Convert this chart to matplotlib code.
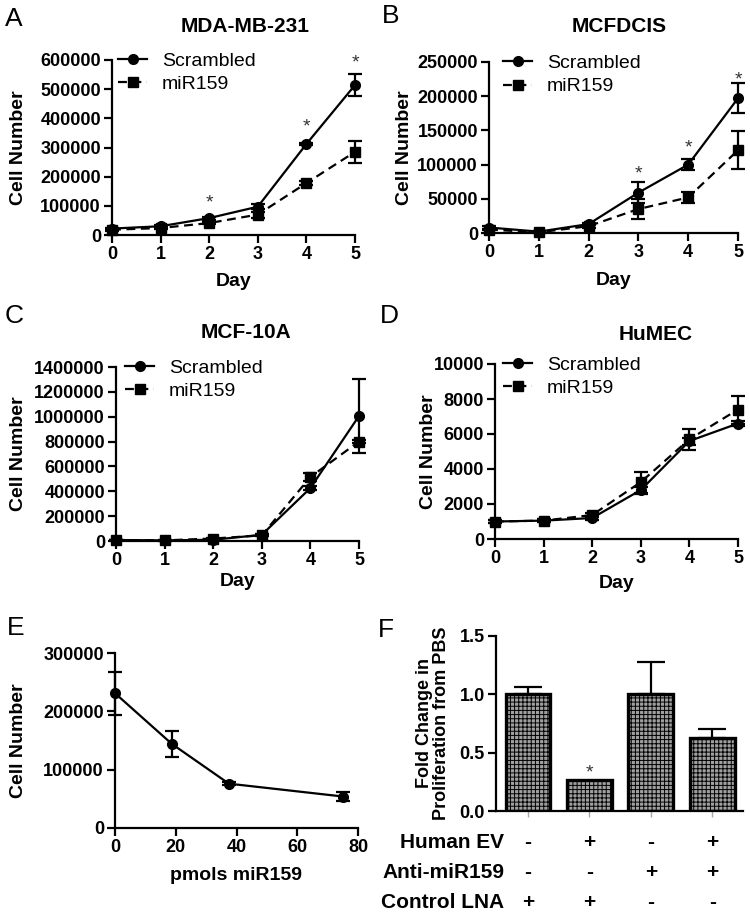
import matplotlib
matplotlib.use("Agg")
import matplotlib.pyplot as plt
from matplotlib.lines import Line2D
from matplotlib.ticker import FormatStrFormatter
import numpy as np

plt.rcParams['font.family'] = ['Liberation Sans', 'DejaVu Sans']
plt.rcParams['hatch.linewidth'] = 0.7

# ---------------- data ----------------
days = [0, 1, 2, 3, 4, 5]

a_scr = [22000, 30000, 58000, 97000, 312000, 514000]
a_scr_err = [3000, 3000, 5000, 8000, 5000, 38000]
a_mir = [18000, 24000, 41000, 70000, 178000, 285000]
a_mir_err = [3000, 3000, 4000, 10000, 6000, 37000]
a_star_x = [2, 4, 5]
a_star_y = [110000, 370000, 590000]

b_scr = [8000, 2000, 13000, 59000, 100000, 197000]
b_scr_err = [2000, 1000, 2000, 15000, 8000, 22000]
b_mir = [5000, 1000, 10000, 35000, 52000, 121000]
b_mir_err = [1000, 500, 2000, 15000, 8000, 28000]
b_star_x = [3, 4, 5]
b_star_y = [87000, 124000, 224000]

c_scr = [8000, 5000, 10000, 50000, 426000, 1006000]
c_scr_err = [2000, 2000, 3000, 8000, 15000, 297000]
c_mir = [8000, 5000, 20000, 45000, 515000, 800000]
c_mir_err = [2000, 2000, 5000, 8000, 35000, 15000]

d_scr = [1000, 1050, 1200, 2800, 5600, 6600]
d_scr_err = [80, 80, 100, 200, 200, 150]
d_mir = [1000, 1050, 1370, 3250, 5700, 7400]
d_mir_err = [80, 80, 100, 600, 600, 800]

e_x = [0, 18.75, 37.5, 75]
e_y = [231000, 144000, 76000, 54000]
e_err = [37000, 22000, 3000, 8000]

f_vals = [1.0, 0.27, 1.0, 0.63]
f_err = [0.06, 0.0, 0.28, 0.07]
f_star_idx = [1]
f_star_y = [0.33]
f_rows = ['Human EV', 'Anti-miR159', 'Control LNA']
f_signs = [['-', '+', '-', '+'],
           ['-', '-', '+', '+'],
           ['+', '+', '-', '-']]

W, H = 750, 918
fig = plt.figure(figsize=(7.5, 9.18), dpi=100)

LW = 1.6
DASH = (0, (4, 2.5))


def ax_at(l, r, top, bot):
    return fig.add_axes([l / W, 1 - bot / H, (r - l) / W, (bot - top) / H])


def ftext(x, y, s, **kw):
    fig.text(x / W, 1 - y / H, s, **kw)


def style(ax):
    for s in ['top', 'right']:
        ax.spines[s].set_visible(False)
    for s in ['left', 'bottom']:
        ax.spines[s].set_linewidth(LW)
    ax.tick_params(width=LW, length=6, labelsize=13, pad=2)
    for lab in ax.get_xticklabels() + ax.get_yticklabels():
        lab.set_fontweight('bold')


def growth(ax, scr, scr_err, mir, mir_err, ymax, ystep, leg_x,
           ylab_x, xlab_y, star_x=None, star_y=None):
    ax.errorbar(days, scr, yerr=scr_err, color='black', lw=LW, marker='o',
                ms=7, capsize=5, capthick=LW, elinewidth=LW, clip_on=False,
                zorder=3)
    ax.errorbar(days, mir, yerr=mir_err, color='black', lw=LW, marker='s',
                ms=7, capsize=5, capthick=LW, elinewidth=LW, ls=DASH,
                clip_on=False, zorder=3)
    ax.set_xlim(0, 5)
    ax.set_ylim(0, ymax)
    ax.set_xticks(days)
    ax.set_yticks(np.arange(0, ymax + 1, ystep))
    ax.yaxis.set_major_formatter(FormatStrFormatter('%d'))
    style(ax)
    ax.set_xlabel('Day', fontsize=14, fontweight='bold')
    ax.set_ylabel('Cell Number', fontsize=14, fontweight='bold')
    ax.yaxis.set_label_coords(ylab_x, 0.5)
    ax.xaxis.set_label_coords(0.5, xlab_y)
    handles = [Line2D([], [], color='black', lw=LW, marker='o', ms=7),
               Line2D([], [], color='black', lw=LW, marker='s', ms=7,
                      ls=DASH)]
    ax.legend(handles, ['Scrambled', 'miR159'], loc='upper left',
              bbox_to_anchor=(leg_x, 1.045), frameon=False, fontsize=14,
              handlelength=1.5, handletextpad=0.75, labelspacing=0.3,
              borderpad=0, borderaxespad=0)
    if star_x:
        for sx, sy in zip(star_x, star_y):
            ax.text(sx, sy, '*', ha='center', va='center', fontsize=14,
                    color='#333333', clip_on=False)


axA = ax_at(112, 355, 60, 235)
growth(axA, a_scr, a_scr_err, a_mir, a_mir_err, 600000, 100000, 0.025,
       -0.35, -0.217, a_star_x, a_star_y)
axB = ax_at(489, 738, 62, 233)
growth(axB, b_scr, b_scr_err, b_mir, b_mir_err, 250000, 50000, 0.056,
       -0.305, -0.228, b_star_x, b_star_y)
axC = ax_at(116, 359, 367, 541)
growth(axC, c_scr, c_scr_err, c_mir, c_mir_err, 1400000, 200000, 0.037,
       -0.366, -0.184)
axD = ax_at(495, 738, 364, 539)
growth(axD, d_scr, d_scr_err, d_mir, d_mir_err, 10000, 2000, 0.033,
       -0.239, -0.206)

# titles and panel letters
ftext(245, 27, 'MDA-MB-231', ha='center', va='center', fontsize=15, fontweight='bold')
ftext(619, 27, 'MCFDCIS', ha='center', va='center', fontsize=15, fontweight='bold')
ftext(246, 333, 'MCF-10A', ha='center', va='center', fontsize=15, fontweight='bold')
ftext(656, 335, 'HuMEC', ha='center', va='center', fontsize=15, fontweight='bold')
for L, (x, y) in zip('ABCDEF', [(5, 19), (382, 16), (5, 316), (380, 316),
                               (7, 628), (378, 630)]):
    ftext(x, y, L, ha='left', va='center', fontsize=19)

# panel E
axE = ax_at(115, 358, 653, 828)
axE.errorbar(e_x, e_y, yerr=e_err, color='black', lw=LW, marker='o', ms=7,
             capsize=5, capthick=LW, elinewidth=LW, clip_on=False, zorder=3)
axE.set_xlim(0, 80)
axE.set_ylim(0, 300000)
axE.set_xticks([0, 20, 40, 60, 80])
axE.set_yticks([0, 100000, 200000, 300000])
axE.yaxis.set_major_formatter(FormatStrFormatter('%d'))
style(axE)
axE.set_xlabel('pmols miR159', fontsize=14, fontweight='bold')
axE.set_ylabel('Cell Number', fontsize=14, fontweight='bold')
axE.yaxis.set_label_coords(-0.362, 0.5)
axE.xaxis.set_label_coords(0.5, -0.223)

# panel F
axF = ax_at(496, 743, 636, 811)
xpos = np.arange(len(f_vals))
axF.bar(xpos, f_vals, width=0.73, color='#a0a0a0', edgecolor='black',
        linewidth=2.4, hatch='++++', zorder=2)
for i, (v, e) in enumerate(zip(f_vals, f_err)):
    if e > 0:
        axF.errorbar([i], [v], yerr=[[0], [e]], color='black', capsize=10,
                     capthick=LW, elinewidth=LW, fmt='none', zorder=1)
for i, sy in zip(f_star_idx, f_star_y):
    axF.text(i, sy, '*', ha='center', va='center', fontsize=14, color='#333333')
axF.set_xlim(-0.52, 3.5)
axF.set_ylim(0, 1.5)
axF.set_yticks([0.0, 0.5, 1.0, 1.5])
axF.yaxis.set_major_formatter(FormatStrFormatter('%.1f'))
axF.set_xticks(xpos)
axF.set_xticklabels([''] * 4)
style(axF)
axF.tick_params(axis='x', length=4, width=1.0, color='#aaaaaa')
axF.set_ylabel('Fold Change in\nProliferation from PBS', fontsize=13,
               fontweight='bold', linespacing=1.0)
axF.yaxis.set_label_coords(-0.186, 0.5)
row_y = [842, 873, 902]
for r, (lab, signs) in enumerate(zip(f_rows, f_signs)):
    ftext(504, row_y[r], lab, ha='right', va='center', fontsize=15,
          fontweight='bold')
    for i, s in enumerate(signs):
        xd = axF.transData.transform((i, 0))[0]
        ftext(xd, row_y[r], s, ha='center', va='center', fontsize=15,
              fontweight='bold')

fig.savefig('out.png', dpi=100)
